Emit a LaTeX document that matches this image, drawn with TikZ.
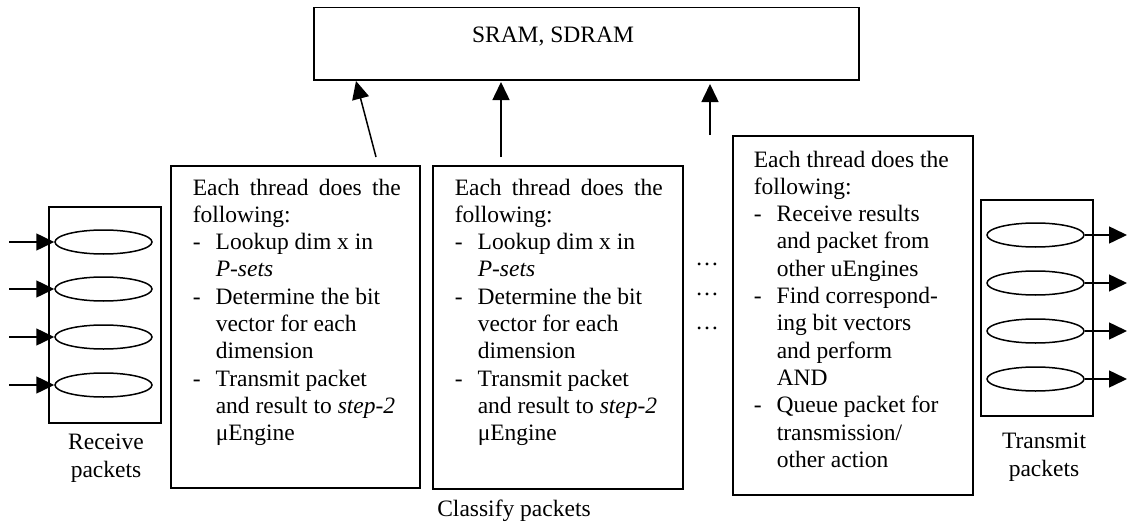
\documentclass[tikz,border=0pt]{standalone}
\usepackage{fontspec}
\setmainfont{Liberation Serif}
\usetikzlibrary{arrows.meta,shapes.geometric}
\newcommand{\bfont}{\fontsize{23.5}{27.3}\selectfont}
\newcommand{\itm}[1]{\makebox[23pt][l]{-}#1}
\newcommand{\cnt}[1]{\hspace*{23pt}#1}
\begin{document}
\begin{tikzpicture}[x=1pt,y=-1pt, line width=1.5pt,
  box/.style={draw, rectangle, inner sep=0pt, anchor=north west},
  txt/.style={inner sep=0pt, anchor=base west, font=\bfont},
  lbl/.style={inner sep=0pt, anchor=base, font=\bfont, align=center},
  pkt/.style={draw, ellipse, inner sep=0pt, minimum width=97pt, minimum height=24pt},
  tip/.style={-{Triangle[length=18pt,width=17pt]}}
]
\useasboundingbox (0,0) rectangle (1127,527);

% memory box
\node[box, minimum width=545pt, minimum height=72pt] (sram) at (313,7) {};
\node[lbl] (sramt) at (553,43) {SRAM, SDRAM};

% receive box
\node[box, minimum width=112pt, minimum height=216pt] (rbox) at (48,206) {};
\foreach \i/\y in {1/242,2/289,3/337,4/385}{
  \node[pkt] (r\i) at (103.5,\y) {};
  \coordinate (ri\i) at (9,\y);
  \draw[tip] (ri\i) -- (r\i.west);
}
\node[lbl] (rlab) at (106,477) {Receive\\packets};

% transmit box
\node[box, minimum width=112pt, minimum height=216pt] (tbox) at (980,199) {};
\foreach \i/\y in {1/235,2/283,3/331,4/379}{
  \node[pkt] (s\i) at (1035.5,\y) {};
  \coordinate (so\i) at (1127,\y);
  \draw[tip] (s\i.east) -- (so\i);
}
\node[lbl] (tlab) at (1044,476) {Transmit\\packets};

% thread boxes
\node[box, minimum width=249pt, minimum height=322pt] (b1) at (170,165) {};
\node[box, minimum width=250pt, minimum height=323pt] (b2) at (432,165) {};
\node[box, minimum width=240pt, minimum height=359pt] (b3) at (732,135) {};

\node[txt] (t1) at (192,195) {\parbox[t]{225pt}{\bfont
  \makebox[208pt][s]{Each thread does the}\\
  following:\\
  \itm{Lookup dim x in}\\
  \cnt{\textit{P-sets}}\\
  \itm{Determine the bit}\\
  \cnt{vector for each}\\
  \cnt{dimension}\\
  \itm{Transmit packet}\\
  \cnt{and result to \textit{step-2}}\\
  \cnt{μEngine}}};

\node[txt] (t2) at (454,195) {\parbox[t]{225pt}{\bfont
  \makebox[208pt][s]{Each thread does the}\\
  following:\\
  \itm{Lookup dim x in}\\
  \cnt{\textit{P-sets}}\\
  \itm{Determine the bit}\\
  \cnt{vector for each}\\
  \cnt{dimension}\\
  \itm{Transmit packet}\\
  \cnt{and result to \textit{step-2}}\\
  \cnt{μEngine}}};

\node[txt] (t3) at (753,167) {\parbox[t]{215pt}{\bfont
  Each thread does the\\
  following:\\
  \itm{Receive results}\\
  \cnt{and packet from}\\
  \cnt{other uEngines}\\
  \itm{Find correspond-}\\
  \cnt{ing bit vectors}\\
  \cnt{and perform}\\
  \cnt{AND}\\
  \itm{Queue packet for}\\
  \cnt{transmission/}\\
  \cnt{other action}}};

% dots
\node[lbl] (d1) at (707,265) {…};
\node[lbl] (d2) at (707,295) {…};
\node[lbl] (d3) at (707,329) {…};

\node[lbl] (clab) at (514,516) {Classify packets};

% arrows to memory
\coordinate (a1s) at (376,157);
\coordinate (a1e) at (356,81);
\coordinate (a2s) at (501,157);
\coordinate (a2e) at (501,82);
\coordinate (a3s) at (710,135);
\coordinate (a3e) at (710,84);
\draw[tip] (a1s) -- (a1e);
\draw[tip] (a2s) -- (a2e);
\draw[tip] (a3s) -- (a3e);
\end{tikzpicture}
\end{document}
